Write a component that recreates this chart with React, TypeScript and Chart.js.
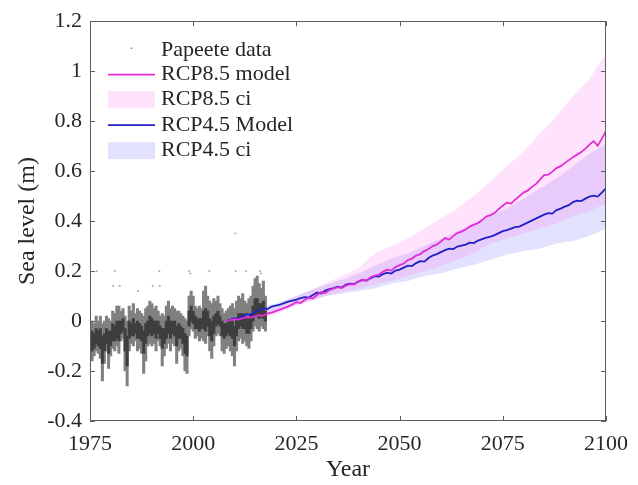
import React, { useEffect, useRef } from "react";
import { Chart, registerables } from "chart.js";
Chart.register(...registerables);

const FONT = "'Liberation Serif', 'Times New Roman', serif";
const TEXT = "#262626";
const MAGENTA = "rgb(226,45,214)";
const BLUE = "rgb(32,32,196)";
const PINK_FILL = "rgba(255,110,236,0.2)";
const LAV_FILL = "rgba(110,110,255,0.2)";

// Papeete tide-gauge data (half-year envelopes)
const PAPEETE_YEARS = [
  1975.0, 1975.5, 1976.0, 1976.5, 1977.0, 1977.5, 1978.0, 1978.5, 1979.0, 1979.5,
  1980.0, 1980.5, 1981.0, 1981.5, 1982.0, 1982.5, 1983.0, 1983.5, 1984.0, 1984.5,
  1985.0, 1985.5, 1986.0, 1986.5, 1987.0, 1987.5, 1988.0, 1988.5, 1989.0, 1989.5,
  1990.0, 1990.5, 1991.0, 1991.5, 1992.0, 1992.5, 1993.0, 1993.5, 1994.0, 1994.5,
  1995.0, 1995.5, 1996.0, 1996.5, 1997.0, 1997.5, 1998.0, 1998.5, 1999.0, 1999.5,
  2000.0, 2000.5, 2001.0, 2001.5, 2002.0, 2002.5, 2003.0, 2003.5, 2004.0, 2004.5,
  2005.0, 2005.5, 2006.0, 2006.5, 2007.0, 2007.5, 2008.0, 2008.5, 2009.0, 2009.5,
  2010.0, 2010.5, 2011.0, 2011.5, 2012.0, 2012.5, 2013.0, 2013.5, 2014.0, 2014.5,
  2015.0, 2015.5, 2016.0, 2016.5, 2017.0, 2017.5,
];
const PAPEETE_HI = [
  -0.02, 0.0, -0.01, 0.02, 0.0, 0.02, -0.01, 0.0, 0.02, 0.01,
  0.0, 0.04, 0.03, 0.06, 0.06, 0.04, 0.05, 0.02, 0.0, 0.06,
  0.04, 0.07, 0.03, 0.05, 0.04, 0.03, 0.02, 0.05, 0.06, 0.08,
  0.07, 0.05, 0.06, 0.04, 0.02, 0.03, 0.02, 0.06, 0.08, 0.05,
  0.06, 0.05, 0.04, 0.04, 0.03, 0.02, 0.01, 0.0, 0.1, 0.12,
  0.1, 0.06, 0.05, 0.06, 0.05, 0.12, 0.14, 0.1, 0.08, 0.07,
  0.09, 0.08, 0.1, 0.07, 0.05, 0.03, 0.04, 0.05, 0.06, 0.07,
  0.05, 0.08, 0.1, 0.09, 0.11, 0.08, 0.07, 0.09, 0.1, 0.14,
  0.17, 0.18, 0.15, 0.13, 0.16, 0.1,
];
const PAPEETE_LO = [
  -0.15, -0.16, -0.14, -0.12, -0.13, -0.15, -0.24, -0.17, -0.12, -0.19,
  -0.14, -0.11, -0.12, -0.1, -0.13, -0.08, -0.07, -0.2, -0.26, -0.12,
  -0.09, -0.1, -0.08, -0.12, -0.11, -0.13, -0.21, -0.16, -0.1, -0.09,
  -0.1, -0.09, -0.12, -0.08, -0.1, -0.18, -0.14, -0.11, -0.09, -0.12,
  -0.09, -0.1, -0.17, -0.12, -0.11, -0.14, -0.2, -0.21, -0.06, -0.03,
  -0.04, -0.07, -0.06, -0.08, -0.07, -0.08, -0.09, -0.06, -0.12, -0.15,
  -0.1, -0.06, -0.05, -0.06, -0.12, -0.13, -0.11, -0.1, -0.12, -0.14,
  -0.18, -0.12, -0.08, -0.07, -0.09, -0.08, -0.1, -0.11, -0.08, -0.04,
  -0.02, -0.03, -0.04, -0.02, -0.03, -0.04,
];
const PAPEETE_CORE_HI = [
  -0.05, -0.04, -0.05, -0.03, -0.04, -0.03, -0.06, -0.05, -0.03, -0.04,
  -0.04, -0.01, -0.02, 0.0, 0.0, 0.0, 0.01, -0.03, -0.06, 0.0,
  -0.01, 0.01, -0.01, 0.0, -0.01, -0.02, -0.04, -0.01, 0.0, 0.02,
  0.01, 0.0, 0.0, 0.0, -0.02, -0.03, -0.03, 0.0, 0.02, 0.0,
  0.0, 0.0, -0.02, -0.01, -0.02, -0.03, -0.05, -0.06, 0.04, 0.06,
  0.04, 0.02, 0.01, 0.01, 0.01, 0.04, 0.05, 0.04, 0.01, 0.0,
  0.02, 0.03, 0.04, 0.02, 0.0, -0.01, -0.01, 0.0, 0.0, 0.0,
  -0.02, 0.01, 0.03, 0.03, 0.03, 0.02, 0.01, 0.01, 0.03, 0.06,
  0.09, 0.09, 0.07, 0.07, 0.08, 0.04,
];
const PAPEETE_CORE_LO = [
  -0.12, -0.12, -0.11, -0.09, -0.1, -0.11, -0.17, -0.12, -0.09, -0.13,
  -0.1, -0.08, -0.08, -0.07, -0.08, -0.05, -0.04, -0.12, -0.18, -0.07,
  -0.06, -0.06, -0.05, -0.07, -0.07, -0.08, -0.13, -0.09, -0.06, -0.05,
  -0.06, -0.05, -0.07, -0.05, -0.07, -0.11, -0.09, -0.07, -0.05, -0.07,
  -0.05, -0.06, -0.1, -0.07, -0.07, -0.09, -0.13, -0.14, -0.02, 0.0,
  -0.01, -0.03, -0.03, -0.04, -0.03, -0.03, -0.04, -0.02, -0.06, -0.08,
  -0.05, -0.02, -0.01, -0.02, -0.06, -0.07, -0.06, -0.05, -0.06, -0.07,
  -0.1, -0.06, -0.03, -0.02, -0.03, -0.03, -0.05, -0.05, -0.03, 0.0,
  0.02, 0.02, 0.01, 0.02, 0.01, 0.0,
];
const OUTLIER_YEARS = [1976.6, 1980.6, 1981.0, 1982.2, 1986.6, 1990.2, 1991.8, 1991.9, 1999.0, 1999.3, 2003.9, 2010.2, 2010.3, 2012.8, 2016.2, 2016.4];
const OUTLIER_VALUES = [0.2, 0.14, 0.2, 0.14, 0.12, 0.14, 0.2, 0.14, 0.2, 0.19, 0.2, 0.35, 0.2, 0.2, 0.2, 0.19];

// Model projections (annual)
const MODEL_YEARS = [
  2008, 2009, 2010, 2011, 2012, 2013, 2014, 2015, 2016, 2017, 2018, 2019, 2020, 2021, 2022, 2023,
  2024, 2025, 2026, 2027, 2028, 2029, 2030, 2031, 2032, 2033, 2034, 2035, 2036, 2037, 2038, 2039,
  2040, 2041, 2042, 2043, 2044, 2045, 2046, 2047, 2048, 2049, 2050, 2051, 2052, 2053, 2054, 2055,
  2056, 2057, 2058, 2059, 2060, 2061, 2062, 2063, 2064, 2065, 2066, 2067, 2068, 2069, 2070, 2071,
  2072, 2073, 2074, 2075, 2076, 2077, 2078, 2079, 2080, 2081, 2082, 2083, 2084, 2085, 2086, 2087,
  2088, 2089, 2090, 2091, 2092, 2093, 2094, 2095, 2096, 2097, 2098, 2099, 2100,
];
const RCP85_MODEL = [
  0.0, 0.004, 0.008, 0.006, 0.012, 0.016, 0.014, 0.02, 0.024, 0.022, 0.03, 0.034, 0.04, 0.046, 0.052, 0.058,
  0.066, 0.076, 0.072, 0.084, 0.094, 0.09, 0.104, 0.116, 0.112, 0.124, 0.13, 0.136, 0.132, 0.142, 0.148, 0.146,
  0.158, 0.166, 0.162, 0.176, 0.182, 0.186, 0.198, 0.206, 0.202, 0.216, 0.224, 0.23, 0.244, 0.25, 0.262, 0.268,
  0.28, 0.288, 0.3, 0.306, 0.318, 0.332, 0.326, 0.34, 0.352, 0.358, 0.366, 0.378, 0.386, 0.392, 0.404, 0.418,
  0.424, 0.432, 0.448, 0.462, 0.474, 0.47, 0.486, 0.5, 0.514, 0.522, 0.536, 0.548, 0.566, 0.584, 0.586, 0.598,
  0.612, 0.62, 0.632, 0.644, 0.656, 0.666, 0.676, 0.69, 0.706, 0.72, 0.702, 0.73, 0.76,
];
const RCP45_MODEL = [
  0.0, 0.006, 0.012, 0.01, 0.02, 0.028, 0.024, 0.036, 0.044, 0.052, 0.048, 0.058, 0.062, 0.066, 0.072, 0.078,
  0.082, 0.086, 0.092, 0.096, 0.094, 0.104, 0.114, 0.11, 0.122, 0.128, 0.132, 0.138, 0.134, 0.146, 0.15, 0.148,
  0.158, 0.164, 0.162, 0.172, 0.18, 0.178, 0.188, 0.194, 0.19, 0.202, 0.206, 0.214, 0.222, 0.22, 0.232, 0.24,
  0.238, 0.252, 0.262, 0.268, 0.276, 0.284, 0.29, 0.288, 0.298, 0.302, 0.306, 0.314, 0.312, 0.322, 0.328, 0.334,
  0.338, 0.344, 0.352, 0.36, 0.364, 0.37, 0.376, 0.378, 0.386, 0.394, 0.402, 0.41, 0.418, 0.426, 0.432, 0.43,
  0.444, 0.45, 0.458, 0.464, 0.476, 0.482, 0.48, 0.49, 0.498, 0.502, 0.498, 0.514, 0.532,
];

// Confidence intervals
const BAND_YEARS = [2008, 2012, 2016, 2020, 2024, 2028, 2032, 2036, 2040, 2044, 2048, 2052, 2056, 2060, 2064, 2068, 2072, 2076, 2080, 2084, 2088, 2092, 2096, 2100];
const RCP85_CI_HI = [0.01, 0.03, 0.045, 0.06, 0.09, 0.12, 0.15, 0.18, 0.21, 0.27, 0.3, 0.33, 0.37, 0.41, 0.45, 0.5, 0.56, 0.62, 0.68, 0.75, 0.82, 0.9, 0.97, 1.07];
const RCP85_CI_LO = [-0.01, 0.0, 0.01, 0.025, 0.055, 0.075, 0.1, 0.115, 0.13, 0.145, 0.16, 0.18, 0.2, 0.22, 0.245, 0.27, 0.31, 0.33, 0.35, 0.37, 0.39, 0.42, 0.44, 0.47];
const RCP45_CI_HI = [0.01, 0.035, 0.055, 0.07, 0.095, 0.12, 0.145, 0.165, 0.19, 0.22, 0.25, 0.27, 0.3, 0.33, 0.36, 0.39, 0.42, 0.45, 0.49, 0.53, 0.57, 0.62, 0.67, 0.71];
const RCP45_CI_LO = [-0.01, 0.005, 0.02, 0.04, 0.06, 0.08, 0.1, 0.11, 0.12, 0.13, 0.15, 0.16, 0.18, 0.19, 0.21, 0.225, 0.245, 0.265, 0.28, 0.29, 0.31, 0.32, 0.34, 0.37];

const X_MIN = 1975, X_MAX = 2100, X_STEP = 25;
const Y_MIN = -0.4, Y_MAX = 1.2, Y_STEP = 0.2;

const pts = (xs: number[], ys: number[]) => xs.map((x, i) => ({ x, y: ys[i] }));

const framePlugin = {
  id: "frame",
  afterDraw(chart: any) {
    const { ctx, chartArea, scales } = chart;
    const { left, right, top, bottom } = chartArea;
    ctx.save();
    ctx.strokeStyle = "#5e5e5e";
    ctx.lineWidth = 1;
    ctx.strokeRect(Math.round(left) + 0.5, Math.round(top) + 0.5, Math.round(right - left) - 1, Math.round(bottom - top) - 1);
    const tl = 5;
    ctx.beginPath();
    scales.x.ticks.forEach((t: any) => {
      const px = Math.round(scales.x.getPixelForValue(t.value)) + 0.5;
      ctx.moveTo(px, bottom); ctx.lineTo(px, bottom - tl);
      ctx.moveTo(px, top); ctx.lineTo(px, top + tl);
    });
    scales.y.ticks.forEach((t: any) => {
      const py = Math.round(scales.y.getPixelForValue(t.value)) + 0.5;
      ctx.moveTo(left, py); ctx.lineTo(left + tl, py);
      ctx.moveTo(right, py); ctx.lineTo(right - tl, py);
    });
    ctx.stroke();
    ctx.restore();
  },
};

const legendPlugin = {
  id: "innerLegend",
  afterDraw(chart: any) {
    const { ctx, chartArea } = chart;
    const ds = chart.data.datasets;
    const x0 = chartArea.left + 18, x1 = chartArea.left + 65, tx = chartArea.left + 71;
    const rows = [29, 53.5, 78, 104, 129];
    const items = [
      { kind: "dot", label: ds[2].label },
      { kind: "line", color: MAGENTA, label: ds[0].label },
      { kind: "box", color: PINK_FILL, label: ds[5].label },
      { kind: "line", color: BLUE, label: ds[1].label },
      { kind: "box", color: LAV_FILL, label: ds[7].label },
    ];
    ctx.save();
    ctx.font = `22px ${FONT}`;
    ctx.textBaseline = "middle";
    ctx.textAlign = "left";
    items.forEach((it, i) => {
      const y = chartArea.top + rows[i];
      if (it.kind === "dot") {
        ctx.fillStyle = "rgba(90,90,90,0.7)";
        ctx.beginPath();
        ctx.arc((x0 + x1) / 2, y - 2, 0.9, 0, Math.PI * 2);
        ctx.fill();
      } else if (it.kind === "line") {
        ctx.strokeStyle = it.color!;
        ctx.lineWidth = 1.8;
        ctx.beginPath();
        ctx.moveTo(x0, y); ctx.lineTo(x1, y);
        ctx.stroke();
      } else {
        ctx.fillStyle = it.color!;
        ctx.fillRect(x0, y - 8, x1 - x0, 17);
      }
      ctx.fillStyle = TEXT;
      ctx.fillText(it.label, tx, y);
    });
    ctx.restore();
  },
};

export default function App() {
  const ref = useRef<HTMLCanvasElement>(null);
  useEffect(() => {
    document.body.style.margin = "0";
    const canvas = ref.current!;
    const chart = new Chart(canvas, {
      type: "line",
      data: {
        datasets: [
          { type: "line", label: "RCP8.5 model", data: pts(MODEL_YEARS, RCP85_MODEL), borderColor: MAGENTA, borderWidth: 1.8, pointRadius: 0, fill: false, tension: 0, order: 0 } as any,
          { type: "line", label: "RCP4.5 Model", data: pts(MODEL_YEARS, RCP45_MODEL), borderColor: BLUE, borderWidth: 1.8, pointRadius: 0, fill: false, tension: 0, order: 0 } as any,
          { type: "bar", label: "Papeete data", data: PAPEETE_YEARS.map((x, i) => ({ x, y: [PAPEETE_LO[i], PAPEETE_HI[i]] })), backgroundColor: "rgb(128,128,128)", borderWidth: 0, barThickness: 2.4, grouped: false, order: 1.5 } as any,
          { type: "bar", label: "Papeete core", data: PAPEETE_YEARS.map((x, i) => ({ x, y: [PAPEETE_CORE_LO[i], PAPEETE_CORE_HI[i]] })), backgroundColor: "rgb(62,62,62)", borderWidth: 0, barThickness: 2.4, grouped: false, order: 1 } as any,
          { type: "line", label: "Papeete outliers", data: pts(OUTLIER_YEARS, OUTLIER_VALUES), showLine: false, pointRadius: 1, pointBorderWidth: 0, pointBackgroundColor: "rgba(110,110,110,0.6)", order: 1 } as any,
          { type: "line", label: "RCP8.5 ci", data: pts(BAND_YEARS, RCP85_CI_HI), borderWidth: 0, borderColor: "transparent", pointRadius: 0, fill: "+1", backgroundColor: PINK_FILL, order: 2 } as any,
          { type: "line", label: "RCP8.5 ci lower", data: pts(BAND_YEARS, RCP85_CI_LO), borderWidth: 0, borderColor: "transparent", pointRadius: 0, fill: false, order: 2 } as any,
          { type: "line", label: "RCP4.5 ci", data: pts(BAND_YEARS, RCP45_CI_HI), borderWidth: 0, borderColor: "transparent", pointRadius: 0, fill: "+1", backgroundColor: LAV_FILL, order: 2 } as any,
          { type: "line", label: "RCP4.5 ci lower", data: pts(BAND_YEARS, RCP45_CI_LO), borderWidth: 0, borderColor: "transparent", pointRadius: 0, fill: false, order: 2 } as any,
        ],
      },
      options: {
        animation: false,
        responsive: false,
        layout: { padding: { left: 0, top: 21, right: 27, bottom: 0 } },
        plugins: { legend: { display: false }, tooltip: { enabled: false } },
        scales: {
          x: {
            type: "linear",
            min: X_MIN,
            max: X_MAX,
            offset: false,
            grid: { display: false, drawTicks: false, offset: false },
            border: { display: false },
            ticks: { stepSize: X_STEP, autoSkip: false, maxRotation: 0, padding: 10, color: TEXT, font: { family: FONT, size: 22 }, callback: (v: any) => String(v) },
            title: { display: true, text: "Year", color: TEXT, font: { family: FONT, size: 24 }, padding: { top: 0, bottom: 1 } },
            afterFit: (s: any) => { s.height = 64; },
          },
          y: {
            type: "linear",
            min: Y_MIN,
            max: Y_MAX,
            grid: { display: false, drawTicks: false },
            border: { display: false },
            ticks: { stepSize: Y_STEP, padding: 8, color: TEXT, font: { family: FONT, size: 22 }, callback: (v: any) => String(Math.round(Number(v) * 10) / 10) },
            title: { display: true, text: "Sea level (m)", color: TEXT, font: { family: FONT, size: 24 }, padding: { top: 13, bottom: 0 } },
            afterFit: (s: any) => { s.width = 90; },
          },
        },
      } as any,
      plugins: [framePlugin, legendPlugin],
    });
    return () => chart.destroy();
  }, []);
  return <canvas ref={ref} width={638} height={485} style={{ display: "block", width: 638, height: 485 }} />;
}
